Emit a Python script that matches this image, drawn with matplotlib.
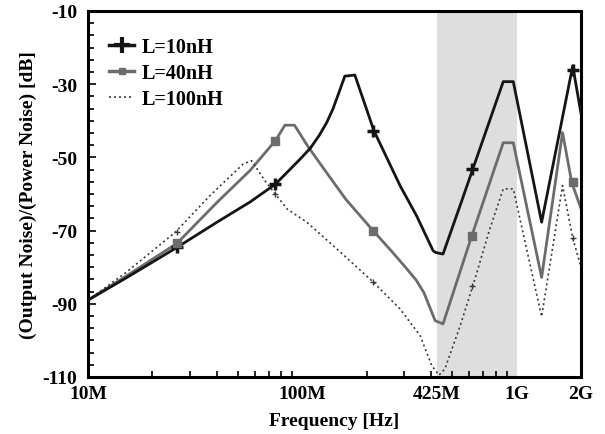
import matplotlib
matplotlib.use('Agg')
import matplotlib.pyplot as plt
from matplotlib.lines import Line2D
from matplotlib.ticker import FixedLocator, NullFormatter
import numpy as np

# values (frequency in Hz, level in dB)
f10 = [1e7, 1.5e7, 2.6e7, 4e7, 5.7e7, 7.5e7, 9.8e7, 1.09e8, 1.2e8, 1.3e8, 1.39e8,
       1.5e8, 1.58e8, 1.76e8, 2.16e8, 2.86e8, 3.42e8, 4.08e8, 4.2e8, 4.54e8,
       5.55e8, 8.67e8, 9.66e8, 1.31e9, 1.83e9, 2e9]
db10 = [-89, -83, -74.6, -67.7, -62.2, -57.3, -50.4, -47.5, -44, -40.5, -36.8,
        -31.5, -27.8, -27.5, -42.7, -57.7, -66, -75.5, -76, -76.4,
        -61.9, -29.3, -29.3, -67.7, -25, -38]

f40 = [1e7, 1.5e7, 2.6e7, 4e7, 5.7e7, 7.5e7, 8.3e7, 9.2e7, 1.06e8, 1.3e8, 1.6e8,
       2.14e8, 2.6e8, 3e8, 3.4e8, 3.7e8, 4.17e8, 4.54e8, 6.17e8, 8.67e8, 9.66e8,
       1.31e9, 1.64e9, 1.81e9, 2e9]
db40 = [-89, -82.5, -73.5, -62.3, -53.6, -45.4, -41.2, -41.2, -46.9, -54.2, -61.5,
        -70, -75.5, -79.7, -83.5, -87, -94.6, -95.5, -71.6, -46, -46,
        -82.8, -43.2, -56.8, -64]

f100 = [1e7, 1.5e7, 2.55e7, 3.7e7, 5.3e7, 5.8e7, 6.7e7, 7.6e7, 8.5e7, 1.05e8,
        1.45e8, 2.14e8, 2.86e8, 3.55e8, 4.02e8, 4.35e8, 4.63e8, 5.46e8, 6.4e8,
        7.5e8, 8.67e8, 9.66e8, 1.31e9, 1.64e9, 1.83e9, 2e9]
db100 = [-89, -81.5, -70.5, -60.5, -51.8, -50.9, -56.4, -60.5, -64.1, -67.7,
         -75, -84, -91.4, -98.7, -106.9, -109.5, -107.8, -96, -83.2,
         -69.6, -58.6, -58.6, -93.5, -57.7, -72, -80]

# marker positions
mk_f = [2.6e7, 7.46e7, 2.15e8, 6.2e8, 1.83e9]
mk10 = [-74.6, -57.3, -42.7, -53.2, -26]
mk40 = [-73.5, -45.4, -70, -71.4, -56.8]
mk100 = [-70.5, -60, -84, -85, -72]

labels = ['L=10nH', 'L=40nH', 'L=100nH']
xtick_vals = [1e7, 1e8, 4.25e8, 1e9, 2e9]
xtick_txt = ['10M', '100M', '425M', '1G', '2G']
ytick_vals = [-10, -30, -50, -70, -90, -110]

plt.rcParams['font.family'] = ['Liberation Serif', 'DejaVu Serif']
plt.rcParams['font.weight'] = 'bold'
plt.rcParams['axes.unicode_minus'] = False

c10, c40, c100 = '#151515', '#6c6c6c', '#3a3a3a'

fig = plt.figure(figsize=(6.05, 4.35), dpi=100)
ax = fig.add_axes([88 / 605, 1 - 378 / 435, 493 / 605, 366 / 435])

ax.axvspan(4.25e8, 1e9, color='#dedede', lw=0, zorder=0)

ax.plot(f10, db10, color=c10, lw=2.0, zorder=3)
ax.plot(f40, db40, color=c40, lw=2.0, zorder=2)
ax.plot(f100, db100, color=c100, lw=1.2, ls=(0, (1.2, 1.8)), zorder=2)

ax.plot(mk_f, mk10, ls='none', marker='+', ms=8, mew=2.5, color=c10, zorder=4)
ax.plot(mk_f, mk40, ls='none', marker='s', ms=5.5, color=c40, zorder=4)
ax.plot(mk_f, mk100, ls='none', marker='+', ms=5, mew=1, color=c100, zorder=4)

ax.set_xscale('log')
ax.set_xlim(1e7, 2e9)
ax.set_ylim(-110, -10)

ax.xaxis.set_major_locator(FixedLocator(xtick_vals))
ax.set_xticklabels(xtick_txt)
minor_x = [k * 10 ** e for e in (7, 8) for k in range(1, 10)] + [1e9]
ax.xaxis.set_minor_locator(FixedLocator(minor_x))
ax.xaxis.set_minor_formatter(NullFormatter())
ax.tick_params(axis='x', which='major', length=0, pad=6, labelsize=14)
ax.tick_params(axis='x', which='minor', direction='in', length=4, width=1.2)

ax.set_yticks(ytick_vals)
ax.yaxis.set_minor_locator(FixedLocator(np.arange(-110, -9, 10 / 3)))
ax.tick_params(axis='y', which='major', direction='in', length=6, width=1.2,
               pad=8, labelsize=14)
ax.tick_params(axis='y', which='minor', direction='in', length=4, width=1.2)

for s in ax.spines.values():
    s.set_linewidth(2.2)

ax.set_xlabel('Frequency [Hz]', fontsize=14, fontweight='bold', labelpad=7)
ax.set_ylabel('(Output Noise)/(Power Noise) [dB]', fontsize=14,
              fontweight='bold', labelpad=4)

handles = [
    Line2D([], [], color=c10, lw=2.5, marker='+', ms=11, mew=3),
    Line2D([], [], color=c40, lw=2.5, marker='s', ms=5),
    Line2D([], [], color=c100, lw=1.2, ls=(0, (1.2, 1.8))),
]
ax.legend(handles, labels, loc='upper left', bbox_to_anchor=(0.015, 0.968),
          frameon=False, fontsize=14.5, handlelength=1.2, handletextpad=0.4,
          labelspacing=0.3, borderpad=0.2)

fig.savefig('out.png', dpi=100)
